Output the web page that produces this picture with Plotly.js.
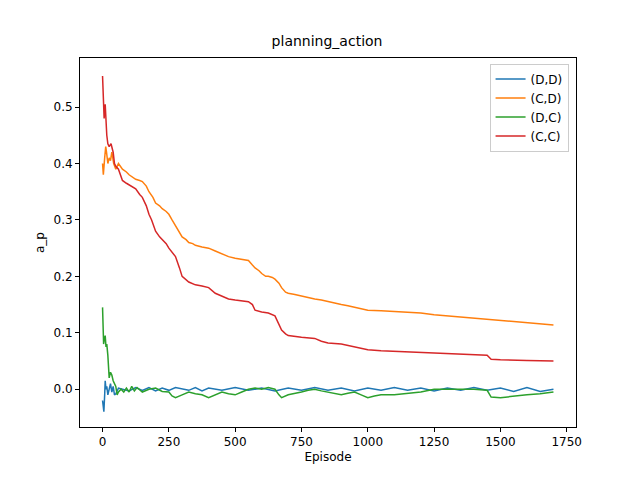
<!DOCTYPE html>
<html>
<head>
<meta charset="utf-8">
<script src="https://cdn.plot.ly/plotly-3.0.1.min.js"></script>
<style>body{margin:0}#plot{width:640px;height:480px}</style>
</head>
<body>
<div id="plot"></div>
<script>
// values
var cdX = [0,3,8,12,15,20,25,30,35,42,50,60,75,90,100,115,125,140,150,165,175,190,200,215,225,240,250,262,275,290,300,315,325,340,350,375,400,425,450,475,500,525,550,565,575,590,600,615,625,640,650,665,675,690,700,725,750,775,800,825,850,875,900,925,950,975,1000,1050,1100,1150,1200,1250,1300,1350,1400,1450,1500,1550,1600,1650,1700]
var cdY = [0.40,0.38,0.41,0.43,0.42,0.40,0.41,0.405,0.42,0.40,0.39,0.40,0.39,0.385,0.38,0.375,0.372,0.37,0.368,0.36,0.35,0.34,0.33,0.325,0.32,0.315,0.31,0.30,0.29,0.28,0.27,0.265,0.26,0.258,0.255,0.252,0.25,0.245,0.24,0.235,0.232,0.23,0.228,0.22,0.215,0.21,0.205,0.20,0.20,0.198,0.195,0.188,0.18,0.172,0.17,0.168,0.165,0.162,0.16,0.158,0.155,0.152,0.15,0.148,0.145,0.143,0.14,0.139,0.138,0.137,0.135,0.132,0.13,0.128,0.125,0.123,0.122,0.12,0.118,0.116,0.114]

var ccX = [0,3,6,10,13,16,20,25,32,40,45,50,60,75,90,100,110,125,140,150,165,175,185,200,215,225,240,250,265,275,290,300,325,350,375,400,425,450,475,500,525,550,565,575,600,625,650,665,675,690,700,750,800,825,850,900,950,1000,1050,1100,1200,1300,1400,1450,1465,1500,1600,1700]
var ccY = [0.555,0.50,0.48,0.505,0.47,0.45,0.435,0.43,0.435,0.42,0.40,0.395,0.39,0.37,0.365,0.362,0.36,0.355,0.345,0.34,0.325,0.31,0.30,0.28,0.27,0.265,0.258,0.25,0.24,0.235,0.215,0.20,0.19,0.185,0.183,0.18,0.17,0.165,0.16,0.158,0.156,0.155,0.15,0.14,0.137,0.135,0.13,0.115,0.105,0.098,0.095,0.092,0.09,0.085,0.082,0.08,0.075,0.07,0.068,0.067,0.065,0.063,0.061,0.06,0.053,0.052,0.051,0.05]

var dcX = [0,4,7,10,13,16,20,25,30,35,40,45,50,55,60,70,80,90,100,110,120,130,150,175,200,225,250,262,275,300,325,350,375,400,425,450,475,500,525,550,575,600,625,650,665,675,700,725,750,775,800,825,850,875,900,925,950,975,1000,1025,1050,1100,1150,1200,1250,1300,1350,1400,1450,1465,1500,1550,1600,1650,1700]
var dcY = [0.145,0.08,0.09,0.095,0.075,0.08,0.06,0.02,0.03,0.025,0.015,0.01,0.005,-0.01,-0.005,0.0,-0.005,0.002,-0.005,0.005,-0.003,0.003,-0.005,0.0,0.002,-0.004,-0.005,-0.012,-0.015,-0.01,-0.005,-0.008,-0.01,-0.015,-0.01,-0.005,-0.008,-0.01,-0.005,0.0,0.002,0.0,0.003,0.0,-0.01,-0.015,-0.01,-0.008,-0.005,-0.002,0.0,-0.003,-0.005,-0.008,-0.01,-0.007,-0.005,-0.01,-0.015,-0.012,-0.01,-0.01,-0.008,-0.005,0.0,0.0,0.001,0.0,-0.002,-0.014,-0.015,-0.012,-0.01,-0.008,-0.005]

var ddX = [0,3,5,8,10,13,16,20,25,30,35,40,45,50,60,75,100,125,150,175,200,225,250,275,300,325,350,375,400,450,500,550,600,650,700,750,800,850,900,950,1000,1050,1100,1150,1200,1250,1300,1350,1400,1450,1500,1550,1600,1650,1700]
var ddY = [-0.02,-0.035,-0.04,-0.01,0.015,0.0,0.005,-0.01,0.0,0.01,-0.005,0.005,-0.01,-0.008,0.002,0.0,-0.003,0.003,-0.002,0.003,-0.003,0.002,-0.002,0.003,0.0,-0.002,0.003,-0.003,0.002,-0.002,0.003,-0.002,0.002,-0.003,0.002,-0.002,0.003,-0.002,0.002,-0.003,0.002,-0.002,0.003,-0.002,0.002,-0.003,0.002,-0.002,0.003,-0.002,0.002,-0.004,0.003,-0.004,0.0]

var series = [
    {name: '(D,D)', x: ddX, y: ddY, color: '#1f77b4'},
    {name: '(C,D)', x: cdX, y: cdY, color: '#ff7f0e'},
    {name: '(D,C)', x: dcX, y: dcY, color: '#2ca02c'},
    {name: '(C,C)', x: ccX, y: ccY, color: '#d62728'}
]

var data = series.map(function (s) {
    return {x: s.x, y: s.y, name: s.name, type: 'scatter', mode: 'lines',
            line: {color: s.color, width: 1.5}}
})

var axisStyle = {
    showgrid: false, zeroline: false, showline: true, mirror: true,
    linecolor: 'black', linewidth: 1, ticks: 'outside', ticklen: 4,
    tickcolor: 'black', tickfont: {size: 12, color: 'black'}
}

var layout = {
    width: 640, height: 480,
    font: {family: 'DejaVu Sans', color: 'black'},
    paper_bgcolor: 'white', plot_bgcolor: 'white',
    margin: {l: 80, r: 64, t: 58, b: 53},
    title: {text: 'planning_action', font: {size: 14}, x: 0.511, y: 0.925},
    xaxis: Object.assign({}, axisStyle, {
        range: [-85, 1785], tickvals: [0,250,500,750,1000,1250,1500,1750],
        title: {text: 'Episode', font: {size: 12}, standoff: 4}
    }),
    yaxis: Object.assign({}, axisStyle, {
        range: [-0.067, 0.587], tickvals: [0,0.1,0.2,0.3,0.4,0.5], tickformat: '.1f',
        title: {text: 'a_p', font: {size: 12}, standoff: 6}
    }),
    legend: {x: 0.985, y: 0.985, xanchor: 'right', yanchor: 'top',
             bordercolor: '#cccccc', borderwidth: 1, font: {size: 12},
             tracegroupgap: 0}
}

Plotly.newPlot('plot', data, layout, {displayModeBar: false})
</script>
</body>
</html>
